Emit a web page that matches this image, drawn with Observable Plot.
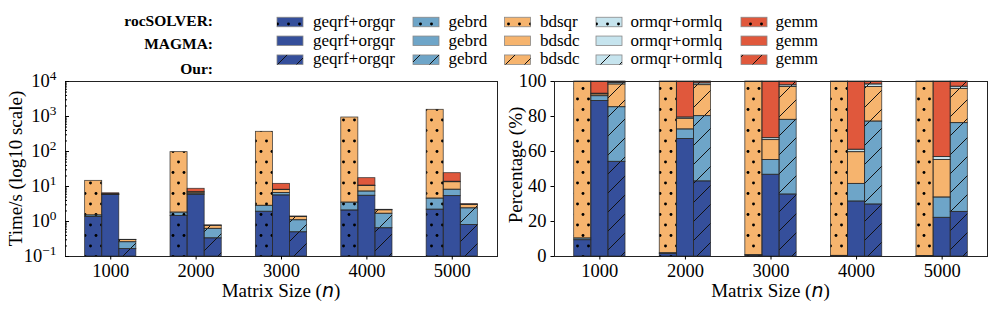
<!DOCTYPE html>
<html><head><meta charset="utf-8">
<script src="https://cdn.jsdelivr.net/npm/d3@7"></script>
<script src="https://cdn.jsdelivr.net/npm/@observablehq/plot@0.6"></script>
<style>
body{margin:0;background:#fff;width:997px;height:312px;overflow:hidden;font-family:"Liberation Serif","Times New Roman",serif;}
#legend{position:absolute;left:0;top:0;}
#left{position:absolute;left:0;top:75px;}
#right{position:absolute;left:498px;top:75px;}
svg{overflow:visible;}
</style></head><body>
<div id="legend"></div><div id="left"></div><div id="right"></div>
<script>
// ---------------- data ----------------
const sizes = ["1000", "2000", "3000", "4000", "5000"];
const methods = ["rocSOLVER", "MAGMA", "Our"];
const components = ["geqrf+orgqr", "gebrd", "bdsqr/bdsdc", "ormqr+ormlq", "gemm"];
const legendLabels = [
  ["geqrf+orgqr", "gebrd", "bdsqr", "ormqr+ormlq", "gemm"],
  ["geqrf+orgqr", "gebrd", "bdsdc", "ormqr+ormlq", "gemm"],
  ["geqrf+orgqr", "gebrd", "bdsdc", "ormqr+ormlq", "gemm"]
];
const colors = ["#354f9b", "#6ea5c8", "#f6b46e", "#c6e4ee", "#e0583c"];
// total time (s) per matrix size
const rocSOLVERTotal = [14.5, 96, 365, 936, 1553];
const magmaTotal = [6.4, 8.6, 11.9, 17.3, 24.0];
const ourTotal = [0.30, 0.77, 1.39, 2.16, 3.12];
// percentage of each component (rows follow `components`), per matrix size
const rocSOLVERPct = [
  [9.3, 1.5, 0.52, 0.22, 0.14],
  [1.0, 0.37, 0.25, 0.15, 0.15],
  [89.7, 98.13, 99.23, 99.63, 99.71],
  [0, 0, 0, 0, 0],
  [0, 0, 0, 0, 0]
];
const magmaPct = [
  [88.8, 67.2, 46.7, 31.4, 22.1],
  [2.8, 5.4, 8.4, 10.1, 11.6],
  [1.0, 6.1, 11.4, 18.1, 21.5],
  [0.4, 0.7, 1.1, 1.4, 1.6],
  [7.0, 20.6, 32.4, 39.0, 43.2]
];
const ourPct = [
  [54.1, 42.9, 35.4, 29.7, 25.5],
  [31.2, 37.3, 42.7, 47.4, 50.7],
  [13.0, 17.7, 18.7, 19.7, 19.6],
  [0.9, 1.0, 1.0, 1.5, 1.2],
  [0.8, 1.1, 2.2, 1.7, 3.0]
];
const yTicksLog = [0.1, 1, 10, 100, 1000, 10000];
const yTicksPct = [0, 20, 40, 60, 80, 100];

// ---------------- build segments ----------------
const methodData = [
  {pct: rocSOLVERPct, total: rocSOLVERTotal, hatch: "dots"},
  {pct: magmaPct, total: magmaTotal, hatch: null},
  {pct: ourPct, total: ourTotal, hatch: "diag"}
];
const segs = [];
methodData.forEach((m, mi) => {
  sizes.forEach((s, si) => {
    let cp = 0, ct = 0;
    components.forEach((c, ci) => {
      const p = m.pct[ci][si];
      if (!(p > 0)) return;
      const t = p / 100 * m.total[si];
      segs.push({method: methods[mi], mi, si, ci, p0: cp, p1: cp + p, t0: ct, t1: ct + t, hatch: m.hatch});
      cp += p; ct += t;
    });
  });
});
const minorTicks = [];
for (let e = -1; e < 4; e++) for (let k = 2; k <= 9; k++) minorTicks.push(k * Math.pow(10, e));

function patternDefs(id) {
  return `<pattern id="dots${id}" patternUnits="userSpaceOnUse" width="11" height="21">
    <circle cx="2.5" cy="3" r="1.45" fill="#000"/><circle cx="8" cy="13.5" r="1.45" fill="#000"/></pattern>
  <pattern id="diag${id}" patternUnits="userSpaceOnUse" width="19" height="19">
    <path d="M-1,20L20,-1M-2,2L2,-2M17,21L21,17" stroke="#111" stroke-width="1"/></pattern>`;
}

function makeChart(isLog) {
  const id = isLog ? "L" : "R";
  const x1 = d => d.si + (d.mi - 1) * 0.2 - 0.1;
  const x2 = d => d.si + (d.mi - 1) * 0.2 + 0.1;
  const y1 = d => isLog ? (d.t0 > 0 ? d.t0 : 0.1) : d.p0;
  const y2 = d => isLog ? d.t1 : d.p1;
  const pos = {x1, x2, y1, y2};
  const marks = [
    Plot.rect(segs, {...pos, fill: d => colors[d.ci]}),
    Plot.rect(segs.filter(d => d.hatch === "dots"), {...pos, fill: `url(#dots${id})`}),
    Plot.rect(segs.filter(d => d.hatch === "diag"), {...pos, fill: `url(#diag${id})`}),
    Plot.rect(segs, {...pos, fill: "none", stroke: "#262626", strokeWidth: 0.8, strokeOpacity: 0.85}),
    Plot.frame({stroke: "#222", strokeWidth: 1}),
    Plot.axisX({ticks: [0, 1, 2, 3, 4], tickFormat: i => sizes[i], tickSize: 3.5, tickPadding: 4, label: null})
  ];
  if (isLog) {
    marks.push(Plot.axisY({ticks: yTicksLog, tickFormat: v => { const e = Math.round(Math.log10(v)); return e < 0 ? "\u2212" + (-e) : String(e); }, tickSize: -4, tickPadding: 13, label: null}));
    marks.push(Plot.axisY({ticks: minorTicks, tickFormat: () => "", tickSize: -2, label: null}));
  } else {
    marks.push(Plot.axisY({ticks: yTicksPct, tickSize: 3.5, tickPadding: 4.5, label: null}));
  }
  const svg = Plot.plot({
    width: isLog ? 498 : 499,
    height: 237,
    marginTop: 6, marginBottom: 56,
    marginLeft: isLog ? 65 : 56, marginRight: isLog ? 1 : 10,
    x: {type: "linear", domain: [-0.53, 4.53]},
    y: isLog ? {type: "log", domain: [0.1, 10000]} : {type: "linear", domain: [0, 100]},
    color: {type: "identity"},
    style: {fontFamily: "'Liberation Serif', 'Times New Roman', serif", fontSize: "18.5px", color: "#000", background: "transparent", overflow: "visible"},
    marks
  });
  const s = d3.select(svg);
  s.insert("defs", ":first-child").html(patternDefs(id));
  if (isLog) {
    s.selectAll('g[aria-label="y-axis tick label"] text').each(function() {
      const exp = this.textContent;
      if (!exp) return;
      const t = d3.select(this);
      t.text("10");
      t.append("tspan").attr("dy", "-0.55em").attr("font-size", "0.72em").text(exp);
    });
  }
  // axis titles
  const w = isLog ? 498 : 499;
  const ml = isLog ? 65 : 56, mr = isLog ? 1 : 10;
  const xl = s.append("text").attr("x", ml + (w - ml - mr) / 2).attr("y", 221.5)
    .attr("text-anchor", "middle").attr("font-size", "19px").attr("fill", "#000")
    .attr("font-family", "'Liberation Serif', serif");
  xl.append("tspan").text("Matrix Size (");
  xl.append("tspan").attr("font-family", "'DejaVu Sans', sans-serif").attr("font-style", "oblique").text("n");
  xl.append("tspan").text(")");
  s.append("text")
    .attr("transform", isLog ? "translate(22,93.5) rotate(-90)" : "translate(23.5,90) rotate(-90)")
    .attr("text-anchor", "middle").attr("font-size", "19px").attr("fill", "#000")
    .attr("font-family", "'Liberation Serif', serif")
    .text(isLog ? "Time/s (log10 scale)" : "Percentage (%)");
  return svg;
}

document.getElementById("left").appendChild(makeChart(true));
document.getElementById("right").appendChild(makeChart(false));

// ---------------- legend ----------------
const lg = d3.select("#legend").append("svg").attr("width", 997).attr("height", 75)
  .attr("font-family", "'Liberation Serif', 'Times New Roman', serif");
lg.append("defs").html(patternDefs("G"));
const rowLabelBase = [26, 49, 74];
const rowCenter = [22, 40.8, 59.7];
const colSwatchX = [277, 413, 504.5, 596, 741];
const colTextX = [313, 448.5, 540, 630.5, 775.5];
methods.forEach((m, r) => {
  lg.append("text").attr("x", 213).attr("y", rowLabelBase[r]).attr("text-anchor", "end")
    .attr("font-weight", "bold").attr("font-size", "15.5px").text(m + ":");
  components.forEach((c, ci) => {
    const x = colSwatchX[ci], y = rowCenter[r] - 4.75;
    lg.append("rect").attr("x", x).attr("y", y).attr("width", 26).attr("height", 9.5)
      .attr("fill", colors[ci]).attr("stroke", "#888").attr("stroke-width", 0.8);
    if (r === 0) lg.append("rect").attr("x", x).attr("y", y).attr("width", 26).attr("height", 9.5).attr("fill", "url(#dotsG)");
    if (r === 2) lg.append("rect").attr("x", x).attr("y", y).attr("width", 26).attr("height", 9.5).attr("fill", "url(#diagG)");
    lg.append("text").attr("x", colTextX[ci]).attr("y", rowCenter[r] + 4.7)
      .attr("font-size", "17px").text(legendLabels[r][ci]);
  });
});
</script>
</body></html>
